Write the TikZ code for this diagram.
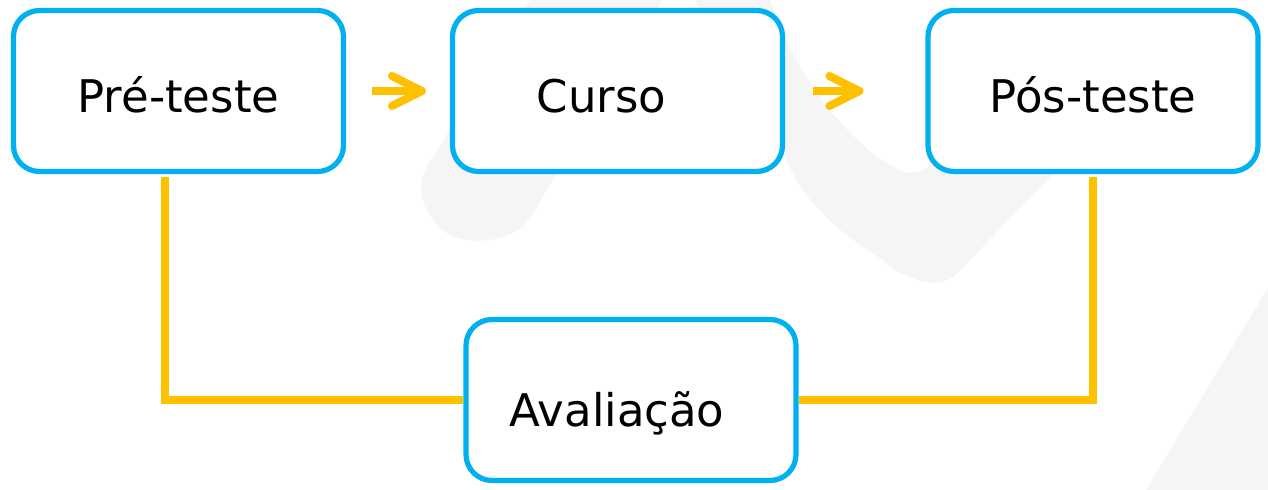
\documentclass[tikz,border=0pt]{standalone}
\usepackage{fontspec}
\setmainfont{DejaVu Sans}
\usetikzlibrary{arrows.meta}
\definecolor{boxblue}{HTML}{00B0F0}
\definecolor{linegold}{HTML}{FFC000}
\definecolor{markgrey}{HTML}{F5F5F5}
\begin{document}
\begin{tikzpicture}[x=0.5pt,y=-0.5pt,
  etapa/.style={draw=boxblue, line width=2.6pt, fill=white, rounded corners=13pt,
    minimum width=165pt, minimum height=80.5pt, text height=22pt, text depth=0pt,
    font=\fontsize{22.5}{26}\selectfont},
  seta/.style={draw=linegold, line width=4pt, -{Straight Barb[length=15pt,width=15pt,round]}},
  ligacao/.style={draw=linegold, line width=4pt, line join=miter}]
\useasboundingbox (0,0) rectangle (1268,490);

\fill[markgrey] (530,0) -- (663,0) -- (557,173) .. controls (540,200) and (530,225) .. (515,232)
  .. controls (490,245) and (450,245) .. (435,222) .. controls (420,205) and (418,185) .. (425,170) -- cycle;
\fill[markgrey] (695,0) -- (770,0) .. controls (800,90) and (860,150) .. (895,168)
  .. controls (905,175) and (920,175) .. (930,165)
  -- (1060,165) -- (1050,177) -- (967,263) .. controls (955,280) and (940,285) .. (927,282)
  .. controls (905,278) and (890,268) .. (883,260) .. controls (850,240) and (830,222) .. (817,207)
  .. controls (800,190) and (790,170) .. (783,150) -- cycle;
\fill[markgrey] (1268,288) -- (1268,490) -- (1146,490) -- cycle;

\node[etapa] (pre) at (178.5,91) {Pré-teste};
\node[etapa] (curso) at (617.5,91) {Curso\kern16pt};
\node[etapa] (pos) at (1093,91) {Pós-teste};
\node[etapa, text height=27pt] (aval) at (631,400) {Avaliação\kern14pt};

\draw[seta] ([xshift=13pt]pre.east) -- ([xshift=-12pt]curso.west);
\draw[seta] ([xshift=14pt]curso.east) -- ([xshift=-31pt]pos.west);

\draw[ligacao] ([xshift=-7pt,yshift=-1.5pt]pre.south) |- (aval.west);
\draw[ligacao] ([yshift=-1.5pt]pos.south) |- (aval.east);
\end{tikzpicture}
\end{document}
